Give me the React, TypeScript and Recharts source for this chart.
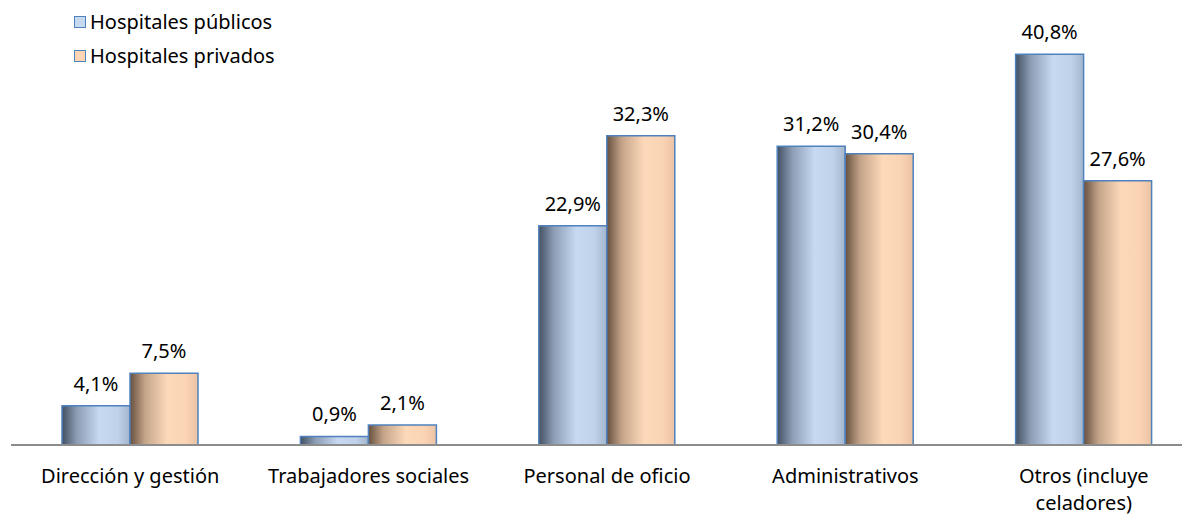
import React from 'react'
import { Bar, BarChart, LabelList, XAxis, YAxis } from 'recharts'

const categories = ['Dirección y gestión', 'Trabajadores sociales', 'Personal de oficio', 'Administrativos', 'Otros (incluye\nceladores)']
const publicos = [4.1, 0.9, 22.9, 31.2, 40.8]
const privados = [7.5, 2.1, 32.3, 30.4, 27.6]
const seriesNames = ['Hospitales públicos', 'Hospitales privados']

const data = categories.map((name, i) => ({ name, publicos: publicos[i], privados: privados[i] }))

const FONT = '"Noto Sans", sans-serif'
const fmt = (v: any) => `${String(v).replace('.', ',')}%`

const CategoryTick = ({ x, y, payload }: any) => {
    const lines = String(payload.value).split('\n')
    return (
        <text x={x} y={y} textAnchor="middle" fontFamily={FONT} fontSize={20} fill="#000">
            {lines.map((l, i) => (
                <tspan key={i} x={x} dy={i === 0 ? 30 : 27}>{l}</tspan>
            ))}
        </text>
    )
}

const LegendBox = () => (
    <div style={{ position: 'absolute', left: 66, top: -3, fontFamily: FONT, fontSize: 20, lineHeight: '34px', zIndex: 1 }}>
        {seriesNames.map((n, i) => (
            <div key={n} style={{ display: 'flex', alignItems: 'center' }}>
                <span style={{
                    width: 10, height: 10, marginRight: 4,
                    background: i === 0 ? '#c6d9f1' : '#fcd5b5',
                    border: '1.5px solid #4f81bd',
                }} />
                {n}
            </div>
        ))}
    </div>
)

export default function App() {
    return (
        <div style={{ position: 'relative', width: 1182, height: 508, overflow: 'hidden' }}>
            <LegendBox />
            <BarChart width={1200} height={508} data={data}
                margin={{ top: 6, right: 5, bottom: 0, left: 3 }}
                barGap={0} barSize={68}>
                <defs>
                    <linearGradient id="gBlue" x1="0" y1="0" x2="1" y2="0">
                        <stop offset="0%" stopColor="#435063" />
                        <stop offset="22%" stopColor="#8c9db4" />
                        <stop offset="55%" stopColor="#c6d9f1" />
                        <stop offset="82%" stopColor="#bfd2ea" />
                        <stop offset="100%" stopColor="#a3b5cd" />
                    </linearGradient>
                    <linearGradient id="gPeach" x1="0" y1="0" x2="1" y2="0">
                        <stop offset="0%" stopColor="#66503f" />
                        <stop offset="22%" stopColor="#c4a489" />
                        <stop offset="55%" stopColor="#fdd9b9" />
                        <stop offset="82%" stopColor="#fad4b4" />
                        <stop offset="100%" stopColor="#e9c3a3" />
                    </linearGradient>
                </defs>
                <XAxis dataKey="name" tick={<CategoryTick />} tickLine={false} height={71}
                    axisLine={{ stroke: '#8c8c8c', strokeWidth: 2 }} interval={0} />
                <YAxis hide domain={[0, 45]} />
                <Bar dataKey="publicos" fill="url(#gBlue)" stroke="#4f81bd" strokeWidth={1.5} isAnimationActive={false}>
                    <LabelList dataKey="publicos" position="top" offset={15} formatter={fmt}
                        style={{ fontFamily: FONT, fontSize: 20, fill: '#000' }} />
                </Bar>
                <Bar dataKey="privados" fill="url(#gPeach)" stroke="#4f81bd" strokeWidth={1.5} isAnimationActive={false}>
                    <LabelList dataKey="privados" position="top" offset={15} formatter={fmt}
                        style={{ fontFamily: FONT, fontSize: 20, fill: '#000' }} />
                </Bar>
            </BarChart>
        </div>
    )
}
